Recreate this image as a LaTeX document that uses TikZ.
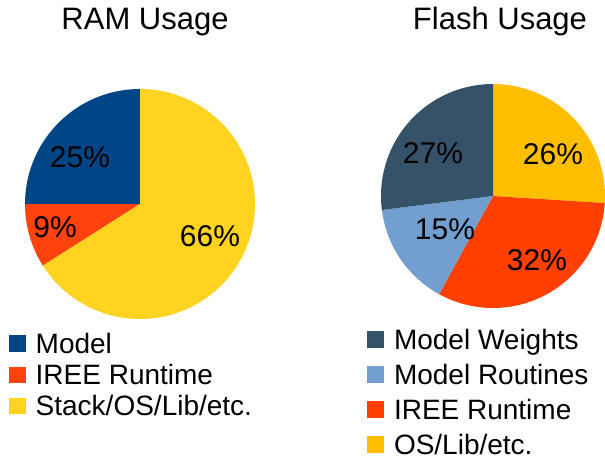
\documentclass[tikz,border=0pt]{standalone}
\usepackage{fontspec}
\setmainfont{Liberation Sans}
\definecolor{cmodel}{HTML}{004586}
\definecolor{ciree}{HTML}{FF420E}
\definecolor{cstack}{HTML}{FFD320}
\definecolor{cweights}{HTML}{355269}
\definecolor{croutines}{HTML}{729FCF}
\definecolor{cfiree}{HTML}{FF4000}
\definecolor{cos}{HTML}{FFBF00}
\tikzset{
  titletext/.style={inner sep=0pt, anchor=base, font=\fontsize{31}{32}\selectfont},
  pcttext/.style={inner sep=0pt, anchor=center, font=\fontsize{30}{32}\selectfont},
  legtext/.style={inner sep=0pt, anchor=base west, font=\fontsize{28}{30}\selectfont},
}
\begin{document}
\begin{tikzpicture}[x=1pt,y=1pt]
\useasboundingbox (0,0) rectangle (605,459);
% titles
\node[titletext] (t1) at (145,429) {RAM Usage};
\node[titletext] (t2) at (500,429) {Flash Usage};
% RAM pie
\coordinate (rc) at (140,255);
\fill[cmodel] (rc) -- ++(90:115) arc[start angle=90, end angle=180, radius=115] -- cycle;
\fill[ciree] (rc) -- ++(180:115) arc[start angle=180, end angle=212.4, radius=115] -- cycle;
\fill[cstack] (rc) -- ++(212.4:115) arc[start angle=212.4, end angle=450, radius=115] -- cycle;
\node[pcttext] (p1) at (80,302) {25\%};
\node[pcttext] (p2) at (55,232) {9\%};
\node[pcttext] (p3) at (210,223) {66\%};
% Flash pie
\coordinate (fc) at (493,263);
\fill[cos] (fc) -- ++(90:112) arc[start angle=90, end angle=-3.6, radius=112] -- cycle;
\fill[cfiree] (fc) -- ++(-3.6:112) arc[start angle=-3.6, end angle=-118.8, radius=112] -- cycle;
\fill[croutines] (fc) -- ++(-118.8:112) arc[start angle=-118.8, end angle=-172.8, radius=112] -- cycle;
\fill[cweights] (fc) -- ++(-172.8:112) arc[start angle=-172.8, end angle=-270, radius=112] -- cycle;
\node[pcttext] (q1) at (433,306) {27\%};
\node[pcttext] (q2) at (553,305) {26\%};
\node[pcttext] (q3) at (445,230) {15\%};
\node[pcttext] (q4) at (537,199) {32\%};
% RAM legend
\fill[cmodel] (9.3,107.3) rectangle ++(16.7,16.7);
\node[legtext] (l1) at (35.5,105.8) {Model};
\fill[ciree] (9.3,75.7) rectangle ++(16.7,16.7);
\node[legtext] (l2) at (35.5,74.2) {IREE Runtime};
\fill[cstack] (9.3,44.7) rectangle ++(16.7,16.7);
\node[legtext] (l3) at (35.5,43.2) {Stack/OS/Lib/etc.};
% Flash legend
\fill[cweights] (367.3,111.3) rectangle ++(17,17);
\node[legtext] (m1) at (393.8,109.8) {Model Weights};
\fill[croutines] (367.3,76.3) rectangle ++(17,17);
\node[legtext] (m2) at (393.8,74.8) {Model Routines};
\fill[cfiree] (367.3,41.3) rectangle ++(17,17);
\node[legtext] (m3) at (393.8,39.8) {IREE Runtime};
\fill[cos] (367.3,6.3) rectangle ++(17,17);
\node[legtext] (m4) at (393.8,4.8) {OS/Lib/etc.};
\end{tikzpicture}
\end{document}
